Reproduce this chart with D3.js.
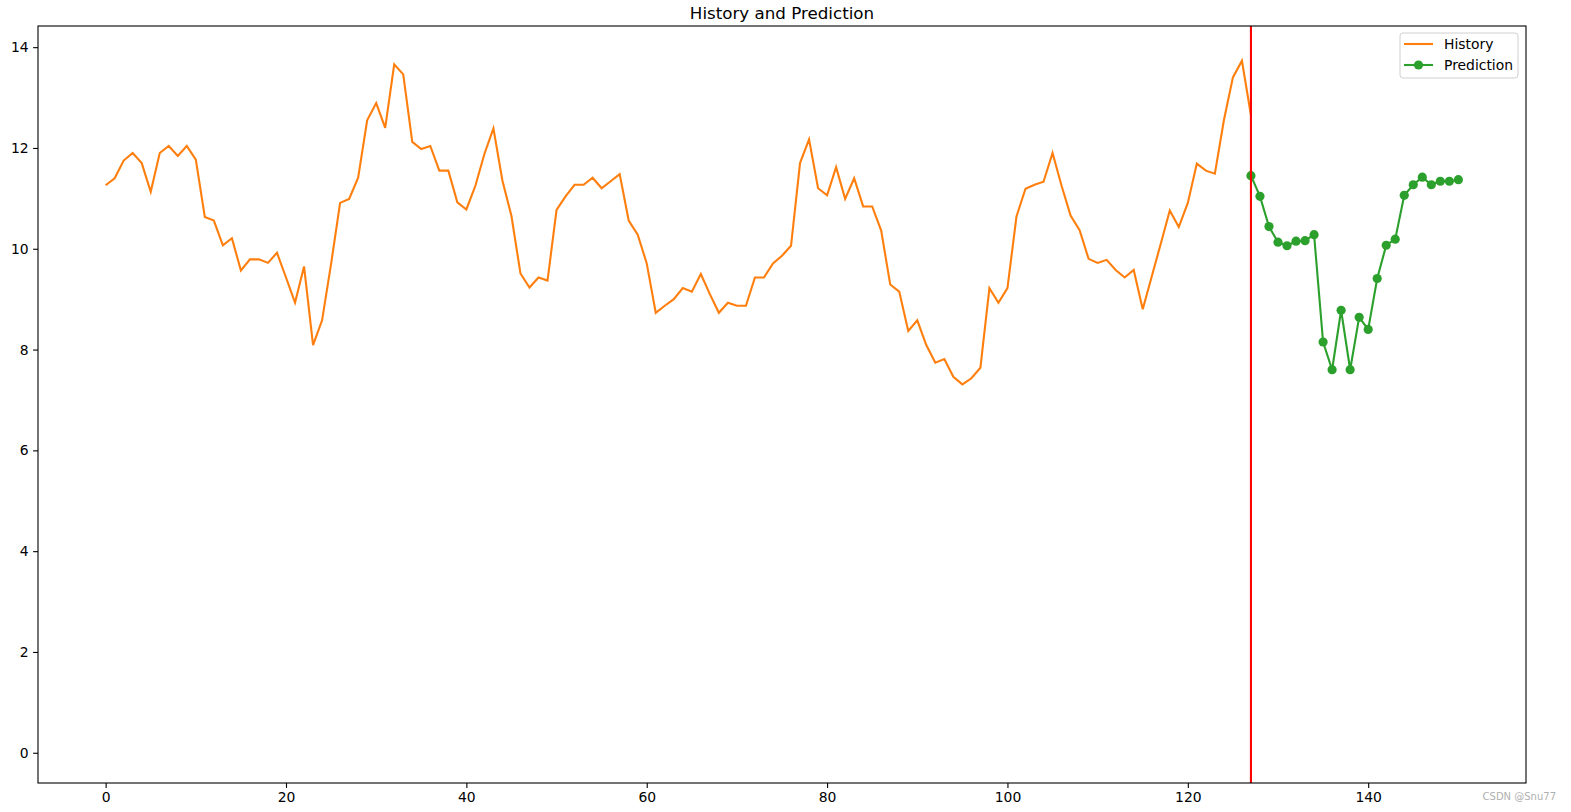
<!DOCTYPE html>
<html>
<head>
<meta charset="utf-8">
<script src="https://cdn.jsdelivr.net/npm/d3@7"></script>
<style>
  body { margin: 0; background: #fff; }
  text { font-family: "DejaVu Sans", sans-serif; }
</style>
</head>
<body>
<script>
// history series (index 0..127)
var historyValues = [11.26, 11.40, 11.75, 11.90, 11.70, 11.13, 11.90, 12.04, 11.84, 12.04,
  11.77, 10.63, 10.56, 10.07, 10.21, 9.57, 9.79, 9.79, 9.72, 9.92,
  9.43, 8.93, 9.65, 8.09, 8.58, 9.70, 10.91, 10.99, 11.41, 12.55,
  12.89, 12.40, 13.66, 13.46, 12.12, 11.98, 12.04, 11.55, 11.55, 10.92,
  10.78, 11.25, 11.88, 12.39, 11.35, 10.65, 9.51, 9.23, 9.43, 9.37,
  10.77, 11.04, 11.27, 11.27, 11.41, 11.20, 11.34, 11.48, 10.56, 10.28,
  9.71, 8.73, 8.87, 9.00, 9.22, 9.15, 9.50, 9.10, 8.73, 8.93,
  8.87, 8.87, 9.43, 9.43, 9.71, 9.86, 10.06, 11.70, 12.17, 11.20,
  11.06, 11.62, 10.99, 11.40, 10.84, 10.84, 10.36, 9.29, 9.15, 8.37,
  8.58, 8.09, 7.74, 7.81, 7.46, 7.31, 7.43, 7.64, 9.22, 8.93,
  9.22, 10.64, 11.19, 11.27, 11.33, 11.90, 11.25, 10.66, 10.37, 9.80,
  9.72, 9.78, 9.58, 9.43, 9.58, 8.80, 9.45, 10.10, 10.76, 10.43,
  10.91, 11.69, 11.55, 11.49, 12.55, 13.40, 13.73, 12.65];
var historyStart = 0;

// prediction series (index 127..150)
var predictionValues = [11.45, 11.04, 10.44, 10.13, 10.06, 10.15, 10.16, 10.28, 8.15, 7.60,
  8.78, 7.60, 8.64, 8.40, 9.41, 10.07, 10.19, 11.06, 11.27, 11.42,
  11.27, 11.34, 11.34, 11.37];
var predictionStart = 127;
var splitAt = 127;

var xTicks = [0, 20, 40, 60, 80, 100, 120, 140];
var yTicks = [0, 2, 4, 6, 8, 10, 12, 14];
var seriesNames = ["History", "Prediction"];
var colors = { History: "#ff7f0e", Prediction: "#2ca02c", split: "#ff0000" };

var svgWidth = 1571, svgHeight = 812;
var margin = { top: 26, right: 45, bottom: 29, left: 38 };
var width = svgWidth - margin.left - margin.right;
var height = svgHeight - margin.top - margin.bottom;

var svg = d3.select("body").append("svg")
  .attr("width", svgWidth)
  .attr("height", svgHeight);

var g = svg.append("g")
  .attr("transform", `translate(${margin.left},${margin.top})`);

var x = d3.scaleLinear().domain([-7.5, 157.5]).range([0, width]);
var y = d3.scaleLinear().domain([-0.6, 14.42]).range([height, 0]);

var histData = historyValues.map(function(v, i) { return { i: historyStart + i, v: v }; });
var predData = predictionValues.map(function(v, i) { return { i: predictionStart + i, v: v }; });

var line = d3.line().x(d => x(d.i)).y(d => y(d.v));

g.append("path")
  .datum(histData)
  .attr("d", line)
  .attr("fill", "none")
  .attr("stroke", colors.History)
  .attr("stroke-width", 2.1);

g.append("path")
  .datum(predData)
  .attr("d", line)
  .attr("fill", "none")
  .attr("stroke", colors.Prediction)
  .attr("stroke-width", 2.1);

g.selectAll("circle.pred")
  .data(predData)
  .enter()
  .append("circle")
  .attr("class", "pred")
  .attr("cx", d => x(d.i))
  .attr("cy", d => y(d.v))
  .attr("r", 4.6)
  .attr("fill", colors.Prediction);

// split line
g.append("line")
  .attr("x1", x(splitAt)).attr("x2", x(splitAt))
  .attr("y1", 0).attr("y2", height)
  .attr("stroke", colors.split)
  .attr("stroke-width", 2.1);

// axes
var xAxis = d3.axisBottom(x).tickValues(xTicks).tickSize(4.9).tickPadding(4.5);
var yAxis = d3.axisLeft(y).tickValues(yTicks).tickSize(4.9).tickPadding(4.5);

var gx = g.append("g").attr("transform", `translate(0,${height})`).call(xAxis);
var gy = g.append("g").call(yAxis);
[gx, gy].forEach(function(a) {
  a.select(".domain").remove();
  a.selectAll("line").attr("stroke", "#000").attr("stroke-width", 1.1);
  a.selectAll("text").attr("font-size", "13.9px").attr("fill", "#000")
    .style("font-family", "'DejaVu Sans', sans-serif");
});

// frame
g.append("rect")
  .attr("width", width).attr("height", height)
  .attr("fill", "none")
  .attr("stroke", "#000")
  .attr("stroke-width", 1.1);

// title
svg.append("text")
  .attr("x", margin.left + width / 2)
  .attr("y", 19)
  .attr("text-anchor", "middle")
  .attr("font-size", "16.7px")
  .text("History and Prediction");

// legend
var lg = svg.append("g").attr("transform", "translate(1400,33)");
lg.append("rect")
  .attr("width", 118).attr("height", 45).attr("rx", 3)
  .attr("fill", "#fff").attr("fill-opacity", 0.8)
  .attr("stroke", "#d0d0d0").attr("stroke-width", 1);
seriesNames.forEach(function(name, k) {
  var yy = 11 + k * 21;
  lg.append("line")
    .attr("x1", 4).attr("x2", 33).attr("y1", yy).attr("y2", yy)
    .attr("stroke", colors[name]).attr("stroke-width", 2.1);
  if (name === "Prediction") {
    lg.append("circle").attr("cx", 18.5).attr("cy", yy).attr("r", 4.6).attr("fill", colors[name]);
  }
  lg.append("text")
    .attr("x", 44).attr("y", yy + 5)
    .attr("font-size", "13.9px")
    .text(name);
});

// watermark
svg.append("text")
  .attr("x", 1556).attr("y", 800)
  .attr("text-anchor", "end")
  .attr("font-size", "10px")
  .attr("fill", "#b0b0b0")
  .text("CSDN @Snu77");
</script>
</body>
</html>
